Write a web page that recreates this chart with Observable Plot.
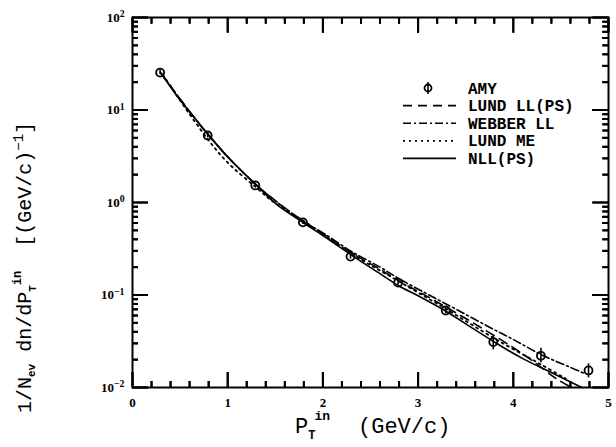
<!DOCTYPE html>
<html><head><meta charset="utf-8">
<script src="https://cdn.jsdelivr.net/npm/d3@7"></script>
<script src="https://cdn.jsdelivr.net/npm/@observablehq/plot@0.6"></script>
<style>body{margin:0;background:#fff}</style>
</head><body><div id="chart"></div>
<script>
// AMY data
const amyX  = [0.29, 0.79, 1.29, 1.79, 2.29, 2.79, 3.29, 3.79, 4.29, 4.79];
const amyY  = [25.4, 5.3, 1.53, 0.61, 0.26, 0.136, 0.068, 0.031, 0.022, 0.0153];
const amyLo = [24.0, 5.0, 1.45, 0.58, 0.245, 0.128, 0.063, 0.0255, 0.0185, 0.0127];
const amyHi = [27.0, 5.6, 1.62, 0.64, 0.275, 0.145, 0.073, 0.036, 0.0265, 0.0180];
// NLL(PS) solid
const nllX = [0.3, 0.5, 0.8, 1.0, 1.3, 1.5, 1.8, 2.0, 2.3, 2.6, 2.8, 3.0, 3.3, 3.6, 3.8, 4.1, 4.4, 4.72];
const nllY = [25, 12.8, 5.4, 3.1, 1.55, 0.98, 0.6, 0.44, 0.27, 0.17, 0.125, 0.098, 0.066, 0.042, 0.031, 0.0205, 0.0145, 0.01];
// WEBBER LL dash-dot
const webX = [0.3, 0.8, 1.3, 1.8, 2.0, 2.3, 2.6, 2.8, 3.1, 3.4, 3.73, 4.0, 4.3, 4.6, 4.76];
const webY = [25, 5.3, 1.55, 0.62, 0.47, 0.295, 0.2, 0.15, 0.102, 0.07, 0.046, 0.033, 0.0225, 0.0165, 0.014];
// LUND LL(PS) dashed
const lllX = [0.3, 0.8, 1.3, 1.8, 2.0, 2.3, 2.6, 2.8, 3.1, 3.4, 3.7, 4.0, 4.2, 4.45, 4.62];
const lllY = [25, 5.3, 1.55, 0.62, 0.46, 0.285, 0.19, 0.142, 0.096, 0.064, 0.042, 0.027, 0.0195, 0.0125, 0.0099];
// LUND ME dotted
const lmeX = [0.32, 0.6, 0.8, 1.0, 1.3, 1.5, 1.8, 2.3, 2.8, 3.3, 3.8, 4.3, 4.55];
const lmeY = [24, 9.0, 4.7, 2.7, 1.45, 0.98, 0.63, 0.28, 0.14, 0.07, 0.034, 0.0175, 0.0125];

const seriesNames = ["AMY", "LUND LL(PS)", "WEBBER LL", "LUND ME", "NLL(PS)"];
const seriesDash  = [null, "9,6", "8,3,2,3", "2,4", null];

const xMajor = [0, 1, 2, 3, 4, 5];
const xMinor = [0.2, 0.4, 0.6, 0.8, 1.2, 1.4, 1.6, 1.8, 2.2, 2.4, 2.6, 2.8, 3.2, 3.4, 3.6, 3.8, 4.2, 4.4, 4.6, 4.8];
const yMajor = [100, 10, 1, 0.1, 0.01];
const yMinor = [];
for (const p of [0.01, 0.1, 1, 10]) for (let k = 2; k <= 9; k++) yMinor.push(p * k);

const toRows = (xs, ys) => xs.map((x, i) => ({x, y: ys[i]}));
const amy = amyX.map((x, i) => ({x, y: amyY[i], lo: amyLo[i], hi: amyHi[i]}));

const W = 616, H = 447, mL = 132, mR = 8, mT = 17, mB = 60;
const iW = W - mL - mR, iH = H - mT - mB;
const lineOpts = {x: "x", y: "y", stroke: "black", strokeWidth: 1.6, curve: "catmull-rom"};
const tk = {stroke: "black", strokeWidth: 2};
const blank = () => "";

const svg = Plot.plot({
  width: W, height: H,
  marginLeft: mL, marginRight: mR, marginTop: mT, marginBottom: mB,
  x: {domain: [0, 5], label: null},
  y: {type: "log", domain: [0.01, 100], label: null},
  marks: [
    // inward ticks on all four sides
    Plot.ruleX(xMajor, {x: d => d, insetTop: iH - 15, ...tk}),
    Plot.ruleX(xMinor, {x: d => d, insetTop: iH - 6, ...tk}),
    Plot.ruleX(xMajor, {x: d => d, insetBottom: iH - 15, ...tk}),
    Plot.ruleX(xMinor, {x: d => d, insetBottom: iH - 6, ...tk}),
    Plot.ruleY(yMajor, {y: d => d, insetRight: iW - 16, ...tk}),
    Plot.ruleY(yMinor, {y: d => d, insetRight: iW - 6, ...tk}),
    Plot.ruleY(yMajor, {y: d => d, insetLeft: iW - 16, ...tk}),
    Plot.ruleY(yMinor, {y: d => d, insetLeft: iW - 6, ...tk}),
    // same ticks through Plot's own axis marks (negative size points inward)
    Plot.axisX({anchor: "bottom", ticks: xMinor, tickSize: -6, tickFormat: blank, label: null, strokeWidth: 2}),
    Plot.axisX({anchor: "top", ticks: xMinor, tickSize: -6, tickFormat: blank, label: null, strokeWidth: 2}),
    Plot.axisX({anchor: "top", ticks: xMajor, tickSize: -15, tickFormat: blank, label: null, strokeWidth: 2}),
    Plot.axisY({anchor: "left", ticks: yMinor, tickSize: -6, tickFormat: blank, label: null, strokeWidth: 2}),
    Plot.axisY({anchor: "right", ticks: yMinor, tickSize: -6, tickFormat: blank, label: null, strokeWidth: 2}),
    Plot.axisY({anchor: "right", ticks: yMajor, tickSize: -16, tickFormat: blank, label: null, strokeWidth: 2}),
    Plot.axisX({anchor: "bottom", ticks: xMajor, tickSize: -15, tickPadding: 25, tickFormat: d => String(d), label: null, strokeWidth: 2}),
    Plot.axisY({anchor: "left", ticks: yMajor, tickSize: -16, tickPadding: 24,
      tickFormat: d => String(Math.round(Math.log10(d))).replace("-", "\u2212"), label: null, strokeWidth: 2}),
    // curves
    Plot.line(toRows(lmeX, lmeY), {...lineOpts, strokeDasharray: seriesDash[3], strokeWidth: 1.8}),
    Plot.line(toRows(lllX, lllY), {...lineOpts, strokeDasharray: seriesDash[1]}),
    Plot.line(toRows(webX, webY), {...lineOpts, strokeDasharray: seriesDash[2]}),
    Plot.line(toRows(nllX, nllY), {...lineOpts}),
    // AMY points
    Plot.ruleX(amy, {x: "x", y1: "lo", y2: "hi", stroke: "black", strokeWidth: 1.6}),
    Plot.dot(amy, {x: "x", y: "y", r: 4, stroke: "black", strokeWidth: 1.8, fill: "none"}),
    Plot.frame({stroke: "black", strokeWidth: 2})
  ]
});

const s = d3.select(svg);
s.selectAll('g[aria-label="x-axis tick label"]')
  .attr("font-family", "'Liberation Serif', serif").attr("font-weight", "bold").attr("font-size", 13);
s.selectAll('g[aria-label="y-axis tick label"]')
  .attr("font-family", "'Liberation Serif', serif").attr("font-weight", "bold").attr("font-size", 13);
s.selectAll('g[aria-label="y-axis tick label"] text').each(function () {
  const e = this.textContent;
  if (!e) return;
  const t = d3.select(this).text("");
  t.append("tspan").text("10");
  t.append("tspan").attr("dy", "-0.45em").attr("font-size", "75%").text(e);
});

const mono = "'Liberation Mono', 'DejaVu Sans Mono', monospace";
// x title
const xt = s.append("text").attr("x", 295).attr("y", 433).attr("text-anchor", "start")
  .attr("font-family", mono).attr("font-size", 22);
xt.append("tspan").text("P");
xt.append("tspan").attr("dy", 6).attr("font-size", 12).attr("font-weight", "bold").text("T");
xt.append("tspan").attr("dy", -19).attr("dx", -1).attr("font-size", 13).attr("font-weight", "bold").text("in");
xt.append("tspan").attr("dy", 13).attr("dx", 28).text("(GeV/c)");

// y title
const yt = s.append("text").attr("transform", "translate(31,413) rotate(-90)")
  .attr("text-anchor", "start").attr("font-family", mono).attr("font-size", 20);
yt.append("tspan").text("1/N");
yt.append("tspan").attr("dy", 4).attr("font-size", 11).attr("font-weight", "bold").text("ev");
yt.append("tspan").attr("dy", -4).text(" dn/dP");
yt.append("tspan").attr("dy", 5).attr("font-size", 11).attr("font-weight", "bold").text("T");
yt.append("tspan").attr("dy", -15).attr("font-size", 12).attr("font-weight", "bold").text("in");
yt.append("tspan").attr("dy", 10).attr("dx", 24).text("[(GeV/c)");
yt.append("tspan").attr("dy", -8).attr("font-size", 14).text("\u22121");
yt.append("tspan").attr("dy", 8).text("]");

// legend
const lg = s.append("g").attr("font-family", mono).attr("font-weight", "bold").attr("font-size", 16)
  .attr("text-anchor", "start");
const ly0 = 88, ldy = 17.6;
seriesNames.forEach((name, i) => {
  const y = ly0 + i * ldy;
  if (i === 0) {
    lg.append("circle").attr("cx", 428).attr("cy", y).attr("r", 3.5)
      .attr("fill", "none").attr("stroke", "black").attr("stroke-width", 1.8);
    lg.append("line").attr("x1", 428).attr("x2", 428).attr("y1", y - 6).attr("y2", y + 6)
      .attr("stroke", "black").attr("stroke-width", 1.6);
  } else {
    lg.append("line").attr("x1", 403).attr("x2", 456).attr("y1", y).attr("y2", y)
      .attr("stroke", "black").attr("stroke-width", i === 3 ? 1.8 : 1.6)
      .attr("stroke-dasharray", seriesDash[i]);
  }
  lg.append("text").attr("x", 468).attr("y", y).attr("dy", "0.35em").text(name);
});

document.getElementById("chart").appendChild(svg);
</script>
</body></html>
